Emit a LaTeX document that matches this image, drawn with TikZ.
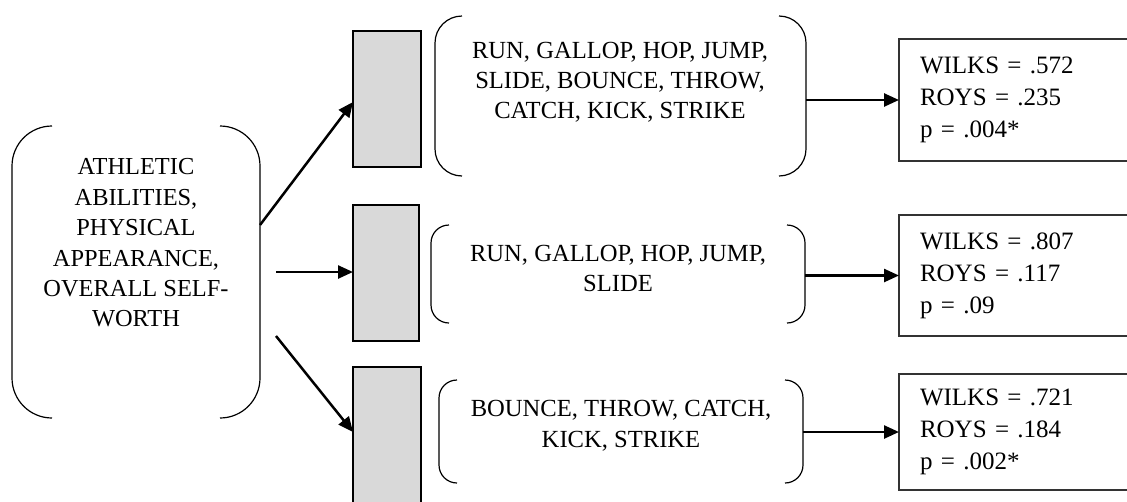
\documentclass[tikz,border=0pt]{standalone}
\usepackage{fontspec}
\setmainfont{Liberation Serif}
\usetikzlibrary{arrows.meta,calc}
\definecolor{boxgray}{HTML}{D9D9D9}
\newcommand{\drawbrackets}[2]{%
  \draw[brk,rounded corners=#2] ([xshift=#2]#1.north west) -- (#1.north west) -- (#1.south west) -- ([xshift=#2]#1.south west);
  \draw[brk,rounded corners=#2] ([xshift=-#2]#1.north east) -- (#1.north east) -- (#1.south east) -- ([xshift=-#2]#1.south east);
}
\begin{document}
\begin{tikzpicture}[x=1pt,y=-1pt,
  arr/.style={line width=2.5pt,-{Triangle[length=15pt,width=13pt]}},
  brk/.style={line width=1.2pt},
  graybox/.style={draw,line width=2.4pt,fill=boxgray,anchor=north west,inner sep=0pt,outer sep=0pt},
  brkarea/.style={inner sep=0pt,outer sep=0pt},
  brktext/.style={align=center,font=\fontsize{24.6}{30}\selectfont,inner sep=0pt},
  resbox/.style={draw=black!80,line width=1.4pt,anchor=north west,align=left,inner xsep=21pt,inner ysep=0pt,outer sep=0pt,font=\fontsize{25}{32}\selectfont,text width=199pt,minimum width=241pt}
]
\clip (0,0) rectangle (1127,501);
\fill[white] (0,0) rectangle (1127,501);

% left bracket box
\node[brkarea,minimum width=248pt,minimum height=292pt] (L) at (136,272) {};
\drawbrackets{L}{40pt}
\node[brktext,font=\fontsize{24.4}{30.4}\selectfont] (tL) at (136,243) {ATHLETIC\\ABILITIES,\\PHYSICAL\\APPEARANCE,\\OVERALL SELF-\\WORTH};

% gray boxes
\node[graybox,minimum width=68pt,minimum height=136pt] (g1) at (353,31) {};
\node[graybox,minimum width=66pt,minimum height=136pt] (g2) at (353,205) {};
\node[graybox,minimum width=68pt,minimum height=160pt] (g3) at (353,367) {};

% bracket groups
\node[brkarea,minimum width=371pt,minimum height=160pt] (b1) at (620.5,96) {};
\drawbrackets{b1}{27pt}
\node[brktext] (t1) at (620,82) {RUN, GALLOP, HOP, JUMP,\\SLIDE, BOUNCE, THROW,\\CATCH, KICK, STRIKE};

\node[brkarea,minimum width=374pt,minimum height=98pt] (b2) at (618,274) {};
\drawbrackets{b2}{18pt}
\node[brktext] (t2) at (618,268) {RUN, GALLOP, HOP, JUMP,\\SLIDE};

\node[brkarea,minimum width=364pt,minimum height=103pt] (b3) at (621,431.5) {};
\drawbrackets{b3}{18pt}
\node[brktext,font=\fontsize{24.6}{31}\selectfont] (t3) at (621,425.5) {BOUNCE, THROW, CATCH,\\KICK, STRIKE};

% result boxes
\node[resbox,minimum height=122pt] (r1) at (899,39) {WILKS = .572\\ROYS = .235\\p = .004*};
\node[resbox,minimum height=121pt] (r2) at (899,215) {WILKS = .807\\ROYS = .117\\p = .09};
\node[resbox,minimum height=116pt] (r3) at (899,374) {WILKS = .721\\ROYS = .184\\p = .002*};

% connectors
\coordinate (a1) at ($(L.north east)!0.339!(L.south east)$);
\coordinate (a2) at (276,272);
\coordinate (a3) at (276,336);
\draw[arr] (a1) -- ([yshift=-3pt]g1.west);
\draw[arr] (a2) -- (a2 -| g2.west);
\draw[arr] (a3) -- ([yshift=-65pt]g3.north west);
\draw[arr] (b1.east |- r1.west) -- (r1.west);
\draw[arr] (b2.east |- r2.west) -- (r2.west);
\draw[arr] (b3.east |- r3.west) -- (r3.west);
\end{tikzpicture}
\end{document}
